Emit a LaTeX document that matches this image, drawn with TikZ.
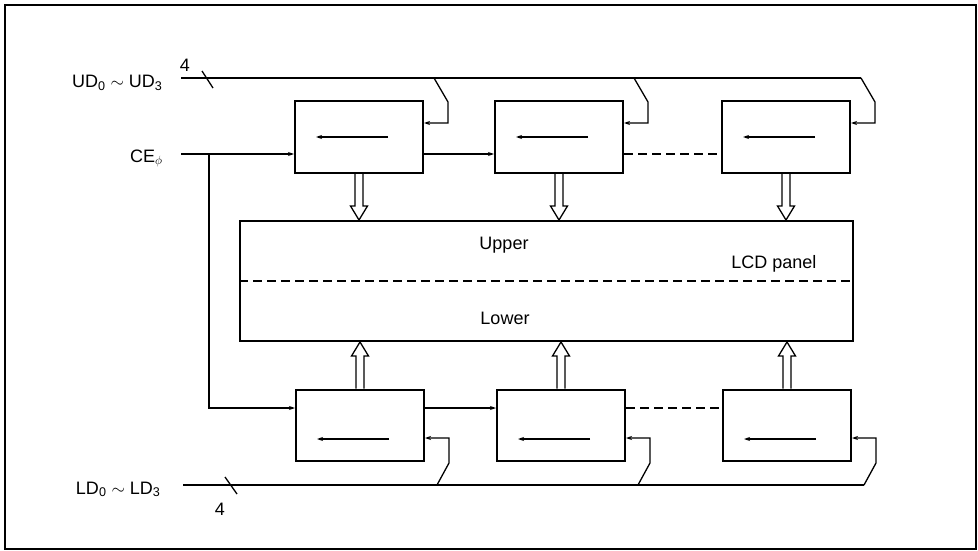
\documentclass[tikz,border=0pt]{standalone}
\usepackage{fontspec}
\setmainfont{Liberation Sans}
\usetikzlibrary{positioning,arrows.meta,calc}

% wide bus arrow between two points on one vertical line
\newcommand{\busarrow}[2]{%
  \draw[hollow] let \p1=(#1), \p2=(#2), \n1={14*sign(\y2-\y1)} in
    ({\x1-4pt},\y1) -- ({\x1-4pt},{\y2-(\n1)}) -- ({\x1-8.5pt},{\y2-(\n1)})
    -- (\x1,\y2) -- ({\x1+8.5pt},{\y2-(\n1)}) -- ({\x1+4pt},{\y2-(\n1)})
    -- ({\x1+4pt},\y1);}

\begin{document}
\begin{tikzpicture}[
    x=1pt, y=-1pt,
    >={Stealth[length=6pt,width=4pt]},
    font=\fontsize{18}{21}\selectfont,
    cell/.style={
        draw,
        line width=2pt,
        minimum width=128pt,
        minimum height=71pt,
        inner sep=0pt
    },
    panel/.style={
        draw,
        line width=2pt,
        minimum width=613pt,
        minimum height=120pt,
        inner sep=0pt
    },
    wire/.style={line width=1.3pt},
    hollow/.style={line width=1.3pt},
    frame/.style={line width=2pt}
]
\useasboundingbox (0,0) rectangle (978,551);
\draw[frame] (5,5) rectangle (976,549);

% upper drivers
\node[cell] (u1) at (359,137) {};
\node[cell] (u2) at (559,137) {};
\node[cell] (u3) at (786,137) {};

% lower drivers
\node[cell] (l1) at (360,425) {};
\node[cell] (l2) at (561,425) {};
\node[cell] (l3) at (787,425) {};

% display
\node[panel] (lcd) at (546.5,281) {};
\draw[wire,dash pattern=on 9pt off 5pt] (lcd.west) -- (lcd.east);
\node (upper) at (504,245) {Upper};
\node (lcdname) at (774,264) {LCD panel};
\node (lower) at (505,318) {Lower};

% inputs
\node[anchor=base east] (udname) at (166,88) {UD\textsubscript{0} $\sim$ UD\textsubscript{3}};
\node[anchor=base east] (cename) at (166,162) {CE\textsubscript{$\phi$}};
\node[anchor=base east] (ldname) at (164,494) {LD\textsubscript{0} $\sim$ LD\textsubscript{3}};
\node[anchor=base] (udwidth) at (185,72) {4};
\node[anchor=base] (ldwidth) at (220,515) {4};

\coordinate (udbus) at (181,78);
\coordinate (cebus) at (181,154);
\coordinate (ldbus) at (183,485);

% data buses
\draw[wire] (udbus) -- ($(u3.east |- udbus)+(10,0)$);
\draw[wire] ($(udbus)+(21,-7)$) -- ++(11,17);
\draw[wire] (ldbus) -- ($(l3.east |- ldbus)+(12,0)$);
\draw[wire] ($(ldbus)+(42,-8)$) -- ++(12,17);

\foreach \c in {u1,u2,u3}
  \draw[wire,->] ($(\c.east |- udbus)+(10,0)$) -- ++(14,24) |- ([yshift=14pt]\c.east);
\foreach \c in {l1,l2,l3}
  \draw[wire,->] ($(\c.east |- ldbus)+(12,0)$) -- ++(12,-22) |- ([yshift=-13pt]\c.east);

% chip enable chain
\draw[wire,->] (cebus) -- ([yshift=-17pt]u1.west);
\draw[wire,->] ($(cebus)+(28,0)$) |- ([yshift=17pt]l1.west);
\draw[wire,->] ([yshift=-17pt]u1.east) -- ([yshift=-17pt]u2.west);
\draw[wire,dash pattern=on 9pt off 5pt] ([yshift=-17pt]u2.east) -- ([yshift=-17pt]u3.west);
\draw[wire,->] ([yshift=17pt]l1.east) -- ([yshift=17pt]l2.west);
\draw[wire,dash pattern=on 9pt off 5pt] ([yshift=17pt]l2.east) -- ([yshift=17pt]l3.west);

% shift direction
\foreach \c in {u1,u2,u3}
  \draw[wire,->] ([xshift=29pt]\c.center) -- ([xshift=-43pt]\c.center);
\foreach \c in {l1,l2,l3}
  \draw[wire,->] ([xshift=29pt,yshift=-14pt]\c.center) -- ([xshift=-43pt,yshift=-14pt]\c.center);

% outputs to the panel
\foreach \c in {u1,u2,u3}
  \busarrow{\c.south}{\c.south |- lcd.north};
\foreach \c in {l1,l2,l3}
  \busarrow{\c.north}{\c.north |- lcd.south};

\end{tikzpicture}
\end{document}
